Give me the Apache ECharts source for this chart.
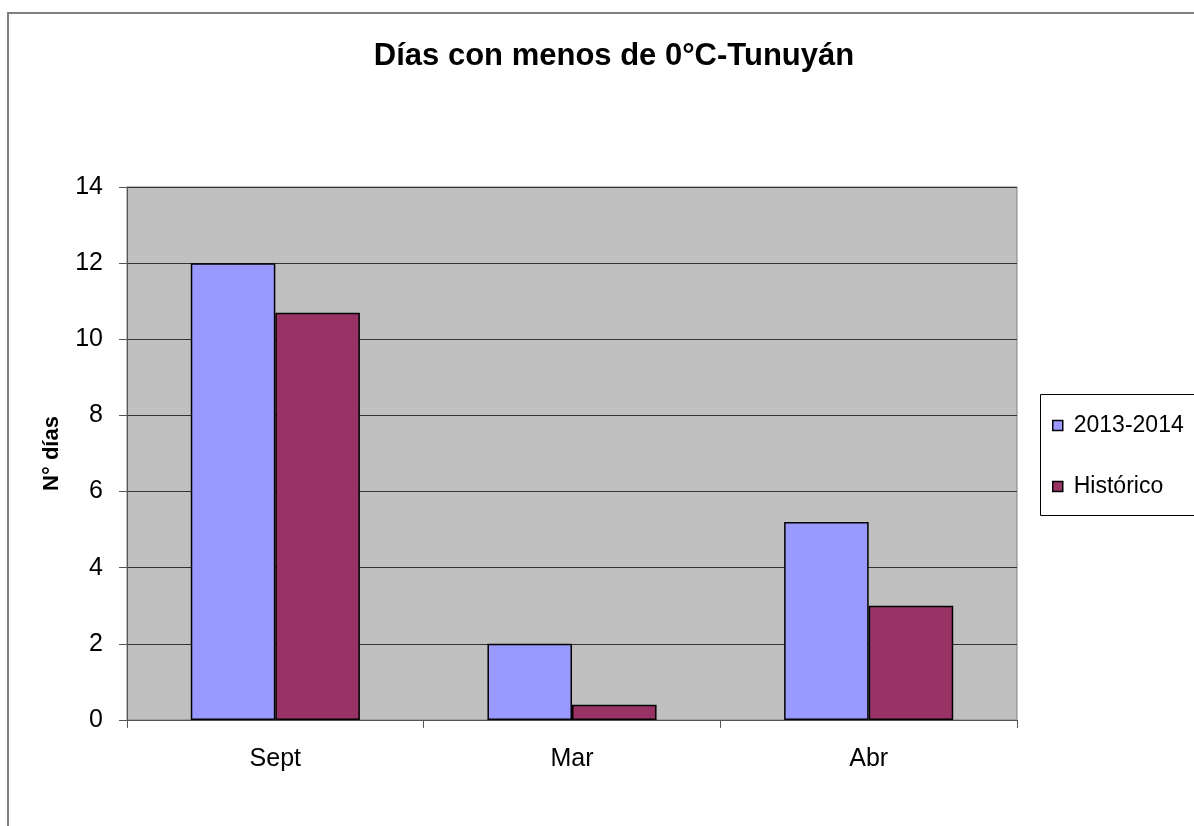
<!DOCTYPE html>
<html>
<head>
<meta charset="utf-8">
<script src="https://cdn.jsdelivr.net/npm/echarts@6/dist/echarts.min.js"></script>
<style>html,body{margin:0;padding:0;background:#fff;}#chart{width:1194px;height:826px;}</style>
</head>
<body>
<div id="chart"></div>
<script>
const categories = ['Sept', 'Mar', 'Abr'];
const serie2013 = [12, 2, 5.2];
const serieHistorico = [10.7, 0.4, 3];
const seriesNames = ['2013-2014', 'Histórico'];
const titleText = 'Días con menos de 0°C-Tunuyán';
const yAxisName = 'N° días';

const FONT = '"Liberation Sans", Arial, sans-serif';
const chart = echarts.init(document.getElementById('chart'), null, {renderer: 'canvas'});
chart.setOption({
  animation: false,
  backgroundColor: '#ffffff',
  title: {
    text: titleText,
    left: 609,
    textAlign: 'center',
    top: 36,
    textStyle: {fontFamily: FONT, fontSize: 31, fontWeight: 'bold', color: '#000'}
  },
  graphic: [
    {type: 'rect', z: -10, shape: {x: 8, y: 13, width: 1300, height: 1000},
     style: {fill: 'none', stroke: '#808080', lineWidth: 2}},
    {type: 'rect', z: -10, shape: {x: 1040.5, y: 394.5, width: 300, height: 121},
     style: {fill: '#fff', stroke: '#000', lineWidth: 1}}
  ],
  legend: {
    orient: 'vertical',
    left: 1047,
    top: 409,
    itemWidth: 10,
    itemHeight: 10,
    itemGap: 38,
    icon: 'rect',
    data: seriesNames,
    textStyle: {fontFamily: FONT, fontSize: 23, color: '#000', lineHeight: 22, padding: [0,0,0,6]},
    itemStyle: {borderColor: '#000', borderWidth: 1.5}
  },
  grid: {
    left: 127, right: 177, top: 187, bottom: 106,
    show: true, backgroundColor: '#C0C0C0', borderColor: '#808080', borderWidth: 1
  },
  xAxis: {
    type: 'category',
    data: categories,
    axisLine: {lineStyle: {color: '#555', width: 1}},
    axisTick: {show: true, alignWithLabel: false, length: 8, lineStyle: {color: '#555'}},
    axisLabel: {fontFamily: FONT, fontSize: 25, color: '#000', margin: 27}
  },
  yAxis: {
    type: 'value',
    min: 0, max: 14, interval: 2,
    name: yAxisName,
    nameLocation: 'middle',
    nameRotate: 90,
    nameGap: 64,
    nameTextStyle: {fontFamily: FONT, fontSize: 22, fontWeight: 'bold', color: '#000'},
    axisLine: {show: true, lineStyle: {color: '#555', width: 1}},
    axisTick: {show: true, length: 8, lineStyle: {color: '#555'}},
    axisLabel: {fontFamily: FONT, fontSize: 25, color: '#000', margin: 24},
    splitLine: {show: true, lineStyle: {color: '#333', width: 1}}
  },
  series: [
    {name: seriesNames[0], type: 'bar', data: serie2013, barGap: '0%', barCategoryGap: '43%',
     itemStyle: {color: '#9999FF', borderColor: '#000', borderWidth: 1.5}},
    {name: seriesNames[1], type: 'bar', data: serieHistorico,
     itemStyle: {color: '#993366', borderColor: '#000', borderWidth: 1.5}}
  ]
});
</script>
</body>
</html>
